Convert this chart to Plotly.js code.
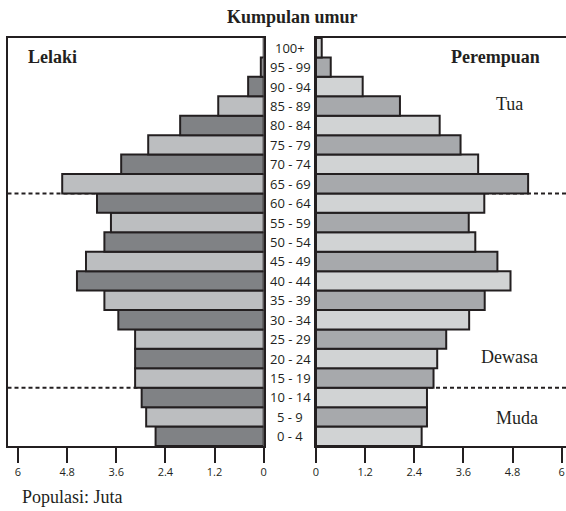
<!DOCTYPE html>
<html>
<head>
<meta charset="utf-8">
<script src="https://cdn.plot.ly/plotly-3.0.1.min.js"></script>
<style>html,body{margin:0;padding:0;background:#fff;}#chart{width:566px;height:511px;}</style>
</head>
<body>
<div id="chart"></div>
<script>
// Age groups, bottom to top
var ageGroups = ["0 - 4","5 - 9","10 - 14","15 - 19","20 - 24","25 - 29","30 - 34","35 - 39","40 - 44","45 - 49","50 - 54","55 - 59","60 - 64","65 - 69","70 - 74","75 - 79","80 - 84","85 - 89","90 - 94","95 - 99","100+"];
// Population in millions
var lelaki = [2.64, 2.87, 2.98, 3.14, 3.14, 3.14, 3.55, 3.89, 4.56, 4.34, 3.89, 3.73, 4.07, 4.92, 3.48, 2.82, 2.04, 1.11, 0.38, 0.07, 0];
var perempuan = [2.58, 2.71, 2.71, 2.87, 2.96, 3.18, 3.74, 4.12, 4.75, 4.43, 3.89, 3.73, 4.11, 5.18, 3.96, 3.53, 3.02, 2.05, 1.14, 0.36, 0.14];
var tickVals = [0, 1.2, 2.4, 3.6, 4.8, 6];
var tickText = ["0", "1.2", "2.4", "3.6", "4.8", "6"];

var idx = ageGroups.map(function(_, i){ return i; });
var leftColors = idx.map(function(i){ return i % 2 === 0 ? "#808285" : "#bcbec0"; });
var rightColors = idx.map(function(i){ return i % 2 === 0 ? "#d1d3d4" : "#a7a9ac"; });

var traces = [
  {type: "bar", orientation: "h", x: lelaki, y: idx, xaxis: "x", yaxis: "y", width: 1,
   marker: {color: leftColors, line: {color: "#231f20", width: 2}}, hoverinfo: "skip"},
  {type: "bar", orientation: "h", x: perempuan, y: idx, xaxis: "x2", yaxis: "y2", width: 1,
   marker: {color: rightColors, line: {color: "#231f20", width: 2}}, hoverinfo: "skip"}
];

var serif = "Liberation Serif, Times New Roman, serif";
var sans = "Open Sans, DejaVu Sans, sans-serif";
var ink = "#231f20";

var annotations = ageGroups.map(function(g, i){
  return {xref: "paper", yref: "y", x: 290/566, y: i, text: g, showarrow: false,
          xanchor: "center", yanchor: "middle", font: {family: sans, size: 13, color: ink}};
});
annotations.push(
  {xref: "paper", yref: "paper", x: 292.6/566, y: 1, yshift: 21, text: "<b>Kumpulan umur</b>", showarrow: false, xanchor: "center", yanchor: "middle", font: {family: serif, size: 18, color: ink}},
  {xref: "paper", yref: "paper", x: 52.3/566, y: 1, yshift: -19, text: "<b>Lelaki</b>", showarrow: false, xanchor: "center", yanchor: "middle", font: {family: serif, size: 18, color: ink}},
  {xref: "paper", yref: "paper", x: 495/566, y: 1, yshift: -19, text: "<b>Perempuan</b>", showarrow: false, xanchor: "center", yanchor: "middle", font: {family: serif, size: 18, color: ink}},
  {xref: "paper", yref: "y", x: 509.5/566, y: 17.1, text: "Tua", showarrow: false, xanchor: "center", yanchor: "middle", font: {family: serif, size: 18, color: ink}},
  {xref: "paper", yref: "y", x: 509.3/566, y: 4.07, text: "Dewasa", showarrow: false, xanchor: "center", yanchor: "middle", font: {family: serif, size: 18, color: ink}},
  {xref: "paper", yref: "y", x: 517.3/566, y: 0.93, text: "Muda", showarrow: false, xanchor: "center", yanchor: "middle", font: {family: serif, size: 18, color: ink}},
  {xref: "paper", yref: "paper", x: 20/566, y: 0, yshift: -51, text: "Populasi: Juta", showarrow: false, xanchor: "left", yanchor: "middle", font: {family: serif, size: 18, color: ink}}
);

var dash = {color: ink, width: 2, dash: "4px,3px"};
var shapes = [
  {type: "line", xref: "paper", yref: "y", x0: 7.5/566, x1: 263/566, y0: 12.5, y1: 12.5, line: dash, layer: "below"},
  {type: "line", xref: "paper", yref: "y", x0: 7.5/566, x1: 263/566, y0: 2.5, y1: 2.5, line: dash, layer: "below"},
  {type: "line", xref: "paper", yref: "y", x0: 317/566, x1: 1, y0: 12.5, y1: 12.5, line: dash, layer: "below"},
  {type: "line", xref: "paper", yref: "y", x0: 317/566, x1: 1, y0: 2.5, y1: 2.5, line: dash, layer: "below"}
];

var layout = {
  width: 566, height: 511,
  margin: {l: 0, r: 0, t: 38, b: 65, pad: 0},
  paper_bgcolor: "#fff", plot_bgcolor: "rgba(0,0,0,0)",
  showlegend: false, bargap: 0,
  xaxis: {domain: [7.5/566, 263.7/566], range: [6.256, 0], anchor: "y", showgrid: false, zeroline: false,
          showline: true, mirror: true, linecolor: ink, linewidth: 2,
          ticks: "outside", ticklen: 15, tickwidth: 2, tickcolor: ink,
          tickvals: tickVals, ticktext: tickText, tickfont: {family: sans, size: 11, color: ink}},
  xaxis2: {domain: [316/566, 1], range: [0, 6.105], anchor: "y2", showgrid: false, zeroline: false,
          showline: true, mirror: true, linecolor: ink, linewidth: 2,
          ticks: "outside", ticklen: 15, tickwidth: 2, tickcolor: ink,
          tickvals: tickVals, ticktext: tickText, tickfont: {family: sans, size: 11, color: ink}},
  yaxis: {range: [-0.5, 20.5], anchor: "x", showgrid: false, zeroline: false, showticklabels: false,
          showline: true, mirror: true, linecolor: ink, linewidth: 2, ticks: ""},
  yaxis2: {range: [-0.5, 20.5], anchor: "x2", matches: "y", showgrid: false, zeroline: false, showticklabels: false,
          showline: true, mirror: false, linecolor: ink, linewidth: 2, ticks: ""},
  annotations: annotations,
  shapes: shapes
};

Plotly.newPlot("chart", traces, layout, {staticPlot: true, displayModeBar: false});
</script>
</body>
</html>
